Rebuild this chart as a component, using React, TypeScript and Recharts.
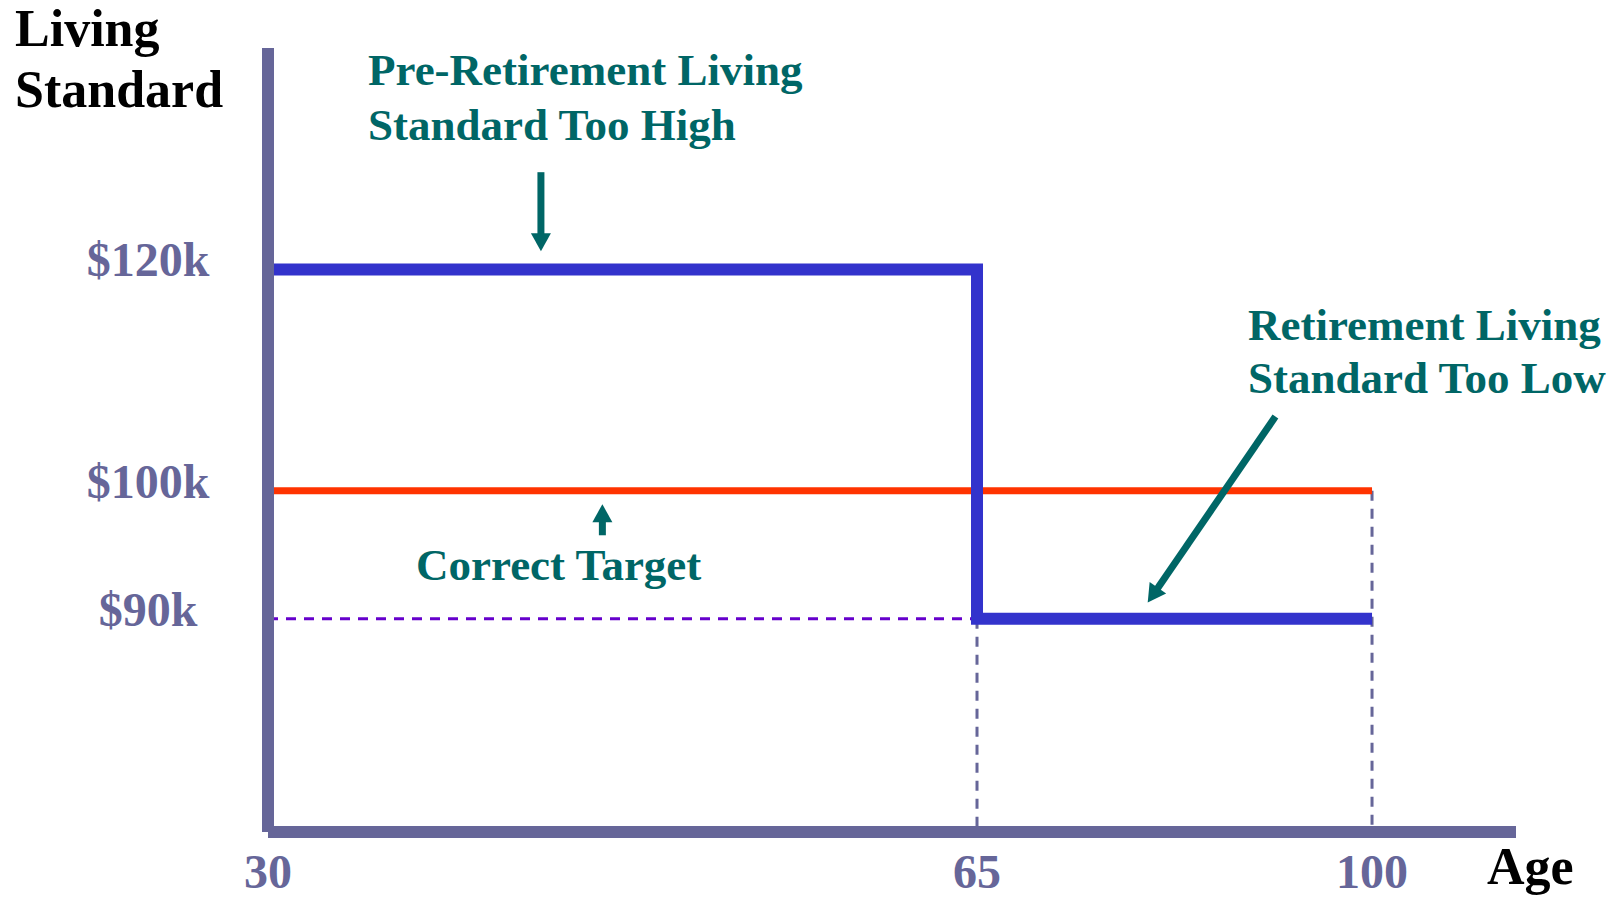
import { Line, LineChart, ReferenceLine, XAxis, YAxis } from "recharts";

// living standard in $k by age: too high before retirement, too low after
const planAges = [30, 65, 100];
const planLevels = [120, 90, 90];
const targetAges = [30, 100];
const targetLevels = [100, 100];

const ageTicks = [30, 65, 100];
const levelTicks = [90, 100, 120];
const levelLabels: Record<number, string> = { 90: "$90k", 100: "$100k", 120: "$120k" };

const ageDomain = [30, 117];
const levelDomain = [75.5, 144];

// callout arrows, in (age, $k)
const arrowFrom = [
  { x: 40.4, y: 130 },
  { x: 43.2, y: 96.4 },
  { x: 90, y: 106.3 },
];
const arrowTo = [
  { x: 40.4, y: 121.8 },
  { x: 43.2, y: 98.9 },
  { x: 78.3, y: 91.2 },
];

const planData = planAges.map((age, i) => ({ age, level: planLevels[i] }));
const targetData = targetAges.map((age, i) => ({ age, level: targetLevels[i] }));

const W = 1623;
const H = 904;
const AXIS = "#666699";
const TEAL = "#006666";
const FONT = '"Liberation Serif", "Times New Roman", serif';

function LevelTick(props: any) {
  const { y, payload } = props;
  return (
    <text x={148} y={y} dy={7} textAnchor="middle" fill={AXIS} fontFamily={FONT} fontWeight="bold" fontSize={48}>
      {levelLabels[payload.value]}
    </text>
  );
}

function AgeTick(props: any) {
  const { x, payload } = props;
  return (
    <text x={x} y={888} textAnchor="middle" fill={AXIS} fontFamily={FONT} fontWeight="bold" fontSize={48}>
      {payload.value}
    </text>
  );
}

function Arrow(props: any) {
  const { x1, y1, x2, y2 } = props;
  if (![x1, y1, x2, y2].every(Number.isFinite)) return null;
  const dx = x2 - x1;
  const dy = y2 - y1;
  const len = Math.hypot(dx, dy) || 1;
  const ux = dx / len;
  const uy = dy / len;
  const head = 18;
  const half = 10;
  const bx = x2 - ux * head;
  const by = y2 - uy * head;
  return (
    <g>
      <line x1={x1} y1={y1} x2={bx + ux * 2} y2={by + uy * 2} stroke={TEAL} strokeWidth={7} />
      <polygon
        points={`${x2},${y2} ${bx - uy * half},${by + ux * half} ${bx + uy * half},${by - ux * half}`}
        fill={TEAL}
      />
    </g>
  );
}

export default function App() {
  return (
    <div style={{ position: "absolute", left: 0, top: 0, width: W, height: H, background: "#fff" }}>
      <LineChart width={W} height={H} margin={{ top: 48, right: 107, bottom: 0, left: 0 }}>
        <XAxis
          type="number"
          dataKey="age"
          scale="log"
          domain={ageDomain}
          ticks={ageTicks}
          height={72}
          axisLine={{ stroke: AXIS, strokeWidth: 12 }}
          tickLine={false}
          tick={<AgeTick />}
        />
        <YAxis
          type="number"
          dataKey="level"
          scale="log"
          domain={levelDomain}
          ticks={levelTicks}
          width={268}
          axisLine={{ stroke: AXIS, strokeWidth: 12 }}
          tickLine={false}
          tick={<LevelTick />}
        />
        <ReferenceLine
          segment={[{ x: planAges[0], y: planLevels[1] }, { x: planAges[1], y: planLevels[1] }]}
          stroke="#6600cc"
          strokeWidth={3}
          strokeDasharray="10 8"
        />
        <ReferenceLine
          segment={[{ x: planAges[1], y: planLevels[1] }, { x: planAges[1], y: levelDomain[0] }]}
          stroke={AXIS}
          strokeWidth={3}
          strokeDasharray="10 8"
        />
        <ReferenceLine
          segment={[{ x: targetAges[1], y: targetLevels[1] }, { x: targetAges[1], y: levelDomain[0] }]}
          stroke={AXIS}
          strokeWidth={3}
          strokeDasharray="10 8"
        />
        <Line
          data={targetData}
          dataKey="level"
          type="linear"
          stroke="#ff3300"
          strokeWidth={7}
          dot={false}
          activeDot={false}
          isAnimationActive={false}
        />
        <Line
          data={planData}
          dataKey="level"
          type="stepAfter"
          stroke="#3333cc"
          strokeWidth={12}
          strokeLinejoin="miter"
          dot={false}
          activeDot={false}
          isAnimationActive={false}
        />
        {arrowFrom.map((from, i) => (
          <ReferenceLine key={i} segment={[from, arrowTo[i]]} shape={<Arrow />} />
        ))}
      </LineChart>
      <svg
        width={W}
        height={H}
        style={{ position: "absolute", left: 0, top: 0, pointerEvents: "none" }}
        fontFamily={FONT}
        fontWeight="bold"
      >
        <text x={15} y={46} fontSize={52} fill="#000">Living</text>
        <text x={15} y={107} fontSize={52} fill="#000">Standard</text>
        <text x={1487} y={884} fontSize={52} fill="#000">Age</text>
        <g fontSize={45} fill={TEAL}>
          <text x={368} y={85}>Pre-Retirement Living</text>
          <text x={368} y={140}>Standard Too High</text>
          <text x={416} y={580}>Correct Target</text>
          <text x={1248} y={340}>Retirement Living</text>
          <text x={1248} y={393}>Standard Too Low</text>
        </g>
      </svg>
    </div>
  );
}
